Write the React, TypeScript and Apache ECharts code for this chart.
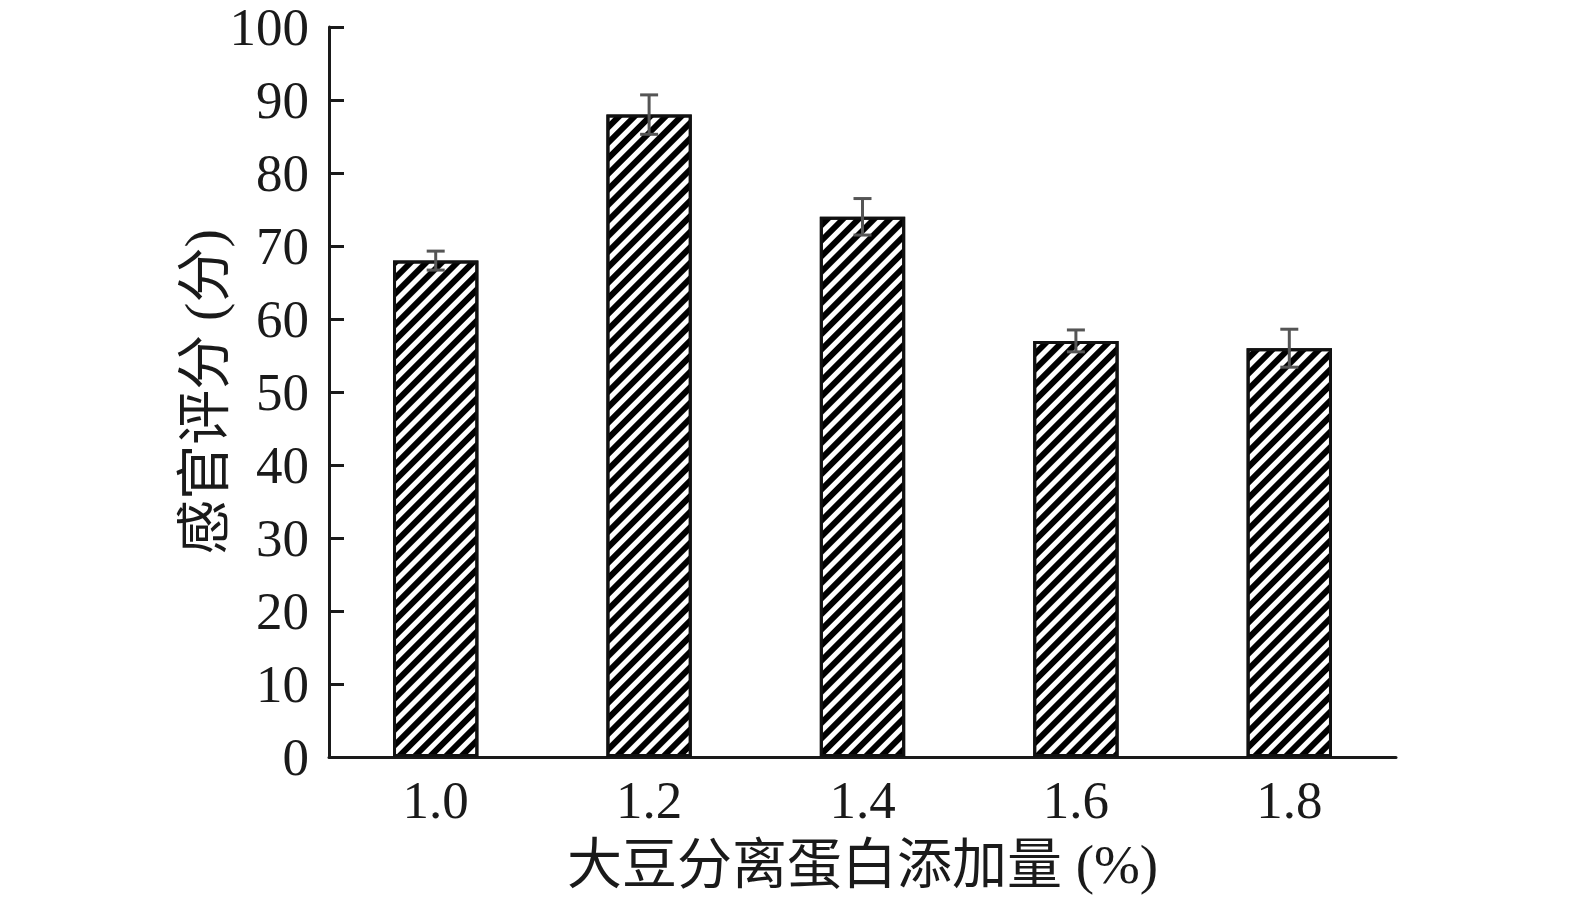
import React, { useEffect, useRef } from "react";
import * as echarts from "echarts";

const categories = ["1.0", "1.2", "1.4", "1.6", "1.8"];
const scores = [68.0, 88.0, 74.0, 57.0, 56.0];
const errors = [1.3, 2.7, 2.5, 1.5, 2.6];
const yTicks = { min: 0, max: 100, interval: 10 };
const xTitle = "大豆分离蛋白添加量 (%)";
const yTitle = "感官评分 (分)";

const serif = "'Liberation Serif', 'Times New Roman', 'Noto Sans CJK SC', serif";

export default function App() {
  const ref = useRef<HTMLDivElement>(null);
  useEffect(() => {
    if (!ref.current) return;
    const chart = echarts.init(ref.current, null, { renderer: "svg" });
    const errData = scores.map((v, i) => [i, v - errors[i], v + errors[i]]);
    chart.setOption({
      animation: false,
      backgroundColor: "#ffffff",
      grid: { left: 329, right: 179, top: 27, bottom: 146, outerBoundsMode: "none", containLabel: false },
      xAxis: {
        type: "category",
        data: categories,
        axisLine: { lineStyle: { color: "#1a1a1a", width: 3 } },
        axisTick: { inside: true, length: 12, lineStyle: { color: "#1a1a1a", width: 3 } },
        axisLabel: { fontFamily: serif, fontSize: 53, color: "#1a1a1a", margin: 16 },
        name: xTitle,
        nameLocation: "middle",
        nameGap: 80,
        nameTextStyle: { fontFamily: serif, fontSize: 55, color: "#1a1a1a" },
      },
      yAxis: {
        type: "value",
        min: yTicks.min,
        max: yTicks.max,
        interval: yTicks.interval,
        splitLine: { show: false },
        axisLine: { show: true, lineStyle: { color: "#1a1a1a", width: 3 } },
        axisTick: { show: true, inside: true, length: 15, lineStyle: { color: "#1a1a1a", width: 3 } },
        axisLabel: { fontFamily: serif, fontSize: 53, lineHeight: 42, color: "#1a1a1a", margin: 20 },
        name: yTitle,
        nameLocation: "middle",
        nameGap: 97,
        nameMoveOverlap: false,
        nameTextStyle: { fontFamily: serif, fontSize: 55, color: "#1a1a1a" },
      },
      series: [
        {
          type: "bar",
          data: scores,
          barWidth: "40%",
          itemStyle: {
            color: "#ffffff",
            borderColor: "#111111",
            borderWidth: 3,
            decal: {
              symbol: "rect",
              symbolSize: 1,
              dashArrayX: [1, 0],
              dashArrayY: [6, 5],
              rotation: -Math.PI / 4,
              color: "#000000",
              backgroundColor: "#ffffff",
            },
          },
          z: 2,
        },
        {
          type: "custom",
          data: errData,
          z: 5,
          renderItem: (params: any, api: any) => {
            const x = api.coord([api.value(0), 0])[0];
            const lo = api.coord([api.value(0), api.value(1)])[1];
            const hi = api.coord([api.value(0), api.value(2)])[1];
            const hw = 9;
            const style = { stroke: "#555555", lineWidth: 3 };
            return {
              type: "group",
              children: [
                { type: "line", shape: { x1: x, y1: lo, x2: x, y2: hi }, style },
                { type: "line", shape: { x1: x - hw, y1: lo, x2: x + hw, y2: lo }, style },
                { type: "line", shape: { x1: x - hw, y1: hi, x2: x + hw, y2: hi }, style },
              ],
            };
          },
        },
      ],
    });
    return () => chart.dispose();
  }, []);
  return <div ref={ref} style={{ width: 1575, height: 903, marginTop: -8, marginLeft: -8 }} />;
}
